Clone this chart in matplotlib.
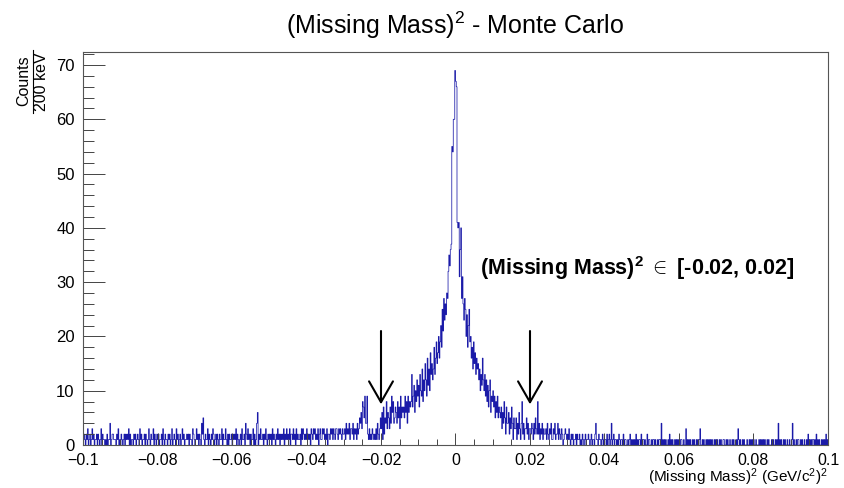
import numpy as np
import matplotlib.pyplot as plt
from matplotlib.lines import Line2D
from matplotlib.ticker import MultipleLocator

plt.rcParams['font.family'] = ['Liberation Sans', 'DejaVu Sans']
plt.rcParams['mathtext.fontset'] = 'custom'
plt.rcParams['mathtext.rm'] = 'Liberation Sans'
plt.rcParams['mathtext.bf'] = 'Liberation Sans:bold'
plt.rcParams['mathtext.it'] = 'Liberation Sans:italic'

# counts per 200 keV bin (0.0002 GeV^2), left to right
x_min, x_max, bin_width = -0.1, 0.1, 0.0002

# -0.100 .. -0.030
left_background = (
    "1210213012" "0131201120" "2101302110" "1020114012" "2111021301"
    "0210120212" "1302011021" "2012103120" "1120210131" "0211302102"
    "1201120310" "2110212013" "0121031201" "2013120112" "1202110321"
    "0131202104" "2510211302" "1021320120" "2102113021" "1310202112"
    "0212130210" "1203112042" "1312021130" "2014602131" "1202131021"
    "2120312102" "1312021213" "0213121302" "2131203121" "1203132121"
    "3121203213" "2312130231" "1323121302" "2132313213" "3213232132"
)
# -0.030 .. -0.012
left_shoulder = (
    "2314232413" "3241323142" "3546387594" "4921312132" "1213142135"
    "3617254836" "5374968457" "6485739576" "7596849687"
)
# -0.012 .. 0.012
core_counts = [
    8, 13, 7, 9, 11, 6, 10, 8, 12, 9,
    11, 7, 13, 10, 9, 14, 8, 12, 10, 15,
    12, 9, 16, 11, 14, 10, 17, 13, 15, 12,
    14, 18, 13, 16, 19, 15, 17, 20, 16, 19,
    22, 18, 25, 21, 27, 23, 26, 24, 28, 27,
    32, 35, 33, 36, 37, 55, 54, 60, 60, 69,
    67, 66, 41, 40, 41, 31, 36, 40, 27, 31,
    26, 23, 27, 25, 20, 24, 18, 22, 25, 19,
    20, 16, 18, 14, 19, 15, 17, 13, 16, 14,
    15, 12, 14, 10, 13, 11, 16, 12, 10, 13,
    9, 12, 8, 11, 7, 10, 12, 6, 9, 8,
    10, 7, 9, 5, 8, 6, 9, 5, 7, 6,
]
# 0.012 .. 0.030
right_shoulder = (
    "5736485274" "4625374153" "3514263148" "2413352413" "3243142532"
    "8241324132" "2314213241" "1324122413" "2132012321"
)
# 0.030 .. 0.100
right_background = (
    "2131021201" "1202112010" "2101201121" "0120110241" "1021101201"
    "1102012014" "0120110102" "1011020110" "0101201010" "1020101102"
    "0110100201" "1001011010" "0101104010" "1010010201" "0100101010"
    "1011001003" "0101010010" "1001010130" "0101001010" "1010100101"
    "0100101001" "1001010010" "0101000103" "1010010100" "0100101010"
    "1001000101" "0101010010" "1000101001" "0104010100" "1010010010"
    "0140100101" "1001010010" "0102010101" "1010201010" "0101010201"
)

window = [-0.02, 0.02]
x_ticks = [-0.1, -0.08, -0.06, -0.04, -0.02, 0, 0.02, 0.04, 0.06, 0.08, 0.1]
x_tick_labels = ['\u22120.1', '\u22120.08', '\u22120.06', '\u22120.04', '\u22120.02',
                 '0', '0.02', '0.04', '0.06', '0.08', '0.1']

counts = ([int(c) for c in left_background] + [int(c) for c in left_shoulder]
          + core_counts
          + [int(c) for c in right_shoulder] + [int(c) for c in right_background])
counts = np.array(counts)
edges = x_min + bin_width * np.arange(len(counts) + 1)

fig = plt.figure(figsize=(8.45, 4.88), dpi=100)
ax = fig.add_axes([83 / 845, 1 - 445 / 488, 745 / 845, 393 / 488])

ax.stairs(counts, edges, color='#1a1aa8', lw=0.55)

ax.set_xlim(x_min, x_max)
ax.set_ylim(0, 72.4)
ax.set_xticks(x_ticks)
ax.set_xticklabels(x_tick_labels)
ax.xaxis.set_minor_locator(MultipleLocator(0.005))
ax.yaxis.set_major_locator(MultipleLocator(10))
ax.yaxis.set_minor_locator(MultipleLocator(2))
ax.tick_params(which='both', direction='in', top=False, right=False,
               labelsize=12, width=0.7, color='#444444')
ax.tick_params(axis='y', which='major', length=16, pad=6)
ax.tick_params(axis='y', which='minor', length=8)
ax.tick_params(axis='x', which='major', length=9, pad=5.5)
ax.tick_params(axis='x', which='minor', length=4.5)
ax.tick_params(axis='x', labelsize=11.5)
for s in ax.spines.values():
    s.set_linewidth(0.8)
    s.set_color('#555555')

# window arrows
for w in window:
    ax.annotate('', xy=(w, 7.5), xytext=(w, 21),
                arrowprops=dict(arrowstyle='->,head_length=1.5,head_width=0.86',
                                lw=1.5, color='black', mutation_scale=10,
                                shrinkA=0, shrinkB=0))

ax.text(0.0066, 32.6, r'(Missing Mass)$^{\mathbf{2}}$ $\in$ [-0.02, 0.02]',
        fontsize=15.5, fontweight='bold', va='center', ha='left')

fig.text(455 / 845, 1 - 25 / 488, r'(Missing Mass)$^{2}$ - Monte Carlo',
         ha='center', va='center', fontsize=18)

fig.text(828 / 845, 1 - 466 / 488, r'(Missing Mass)$^{2}$ (GeV/c$^{2}$)$^{2}$',
         ha='right', va='top', fontsize=11)

fig.text(24 / 845, 1 - 81 / 488, 'Counts', rotation=90, ha='center', va='center', fontsize=11.5)
fig.text(42 / 845, 1 - 82 / 488, '200 keV', rotation=90, ha='center', va='center', fontsize=11.5)
fig.add_artist(Line2D([33 / 845, 33 / 845], [1 - 50 / 488, 1 - 113 / 488],
                      color='black', lw=0.8))

fig.savefig('out.png', dpi=100)
